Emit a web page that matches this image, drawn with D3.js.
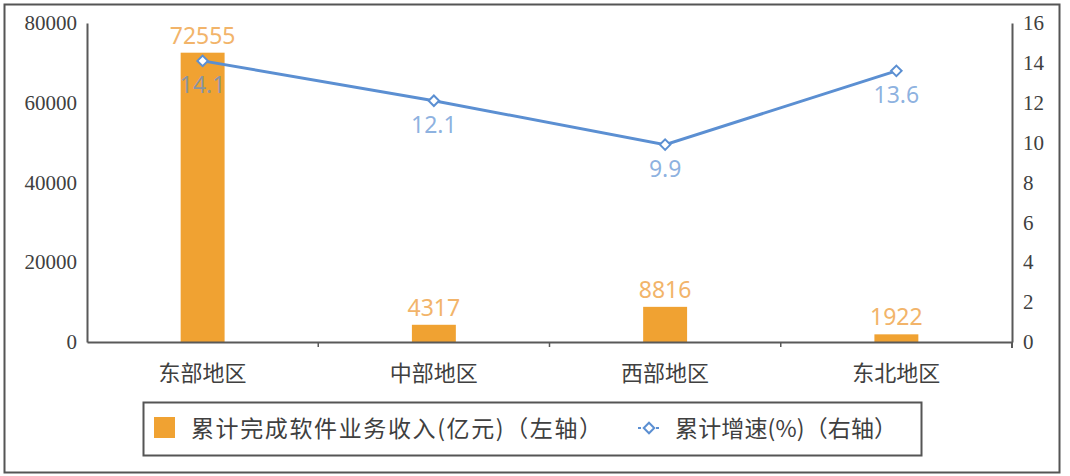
<!DOCTYPE html>
<html>
<head>
<meta charset="utf-8">
<script src="https://cdn.jsdelivr.net/npm/d3@7"></script>
<style>
  body { margin: 0; background: #fff; }
  svg { display: block; }
</style>
</head>
<body>
<div id="vis"></div>
<script>
const FRAME_WIDTH = 1070;
const FRAME_HEIGHT = 476;
const MARGINS = { left: 87, right: 58, top: 23, bottom: 134 };

const VIS_WIDTH = FRAME_WIDTH - MARGINS.left - MARGINS.right;
const VIS_HEIGHT = FRAME_HEIGHT - MARGINS.top - MARGINS.bottom;

// data
const regions = ["东部地区", "中部地区", "西部地区", "东北地区"];
const revenue = [72555, 4317, 8816, 1922];
const growth = [14.1, 12.1, 9.9, 13.6];
const leftTicks = [0, 20000, 40000, 60000, 80000];
const rightTicks = [0, 2, 4, 6, 8, 10, 12, 14, 16];
const legendLabels = ["累计完成软件业务收入(亿元)（左轴）", "累计增速(%)（右轴）"];

const BAR_COLOR = "#f0a232";
const LINE_COLOR = "#5b8fd2";
const AXIS_COLOR = "#595959";
const TEXT_COLOR = "#404040";

const FRAME = d3.select("#vis")
  .append("svg")
  .attr("width", FRAME_WIDTH)
  .attr("height", FRAME_HEIGHT);

// outer border
FRAME.append("rect")
  .attr("x", 4.5).attr("y", 4.5)
  .attr("width", 1055).attr("height", 468)
  .attr("fill", "none")
  .attr("stroke", "#555")
  .attr("stroke-width", 2);

const X_SCALE = d3.scaleBand()
  .domain(regions)
  .range([0, VIS_WIDTH])
  .paddingInner(0.81)
  .paddingOuter(0.405);

const X_BANDS = d3.scaleBand().domain(regions).range([0, VIS_WIDTH]);

const Y_LEFT = d3.scaleLinear().domain([0, 80000]).range([VIS_HEIGHT, 0]);
const Y_RIGHT = d3.scaleLinear().domain([0, 16]).range([VIS_HEIGHT, 0]);

const G = FRAME.append("g")
  .attr("transform", `translate(${MARGINS.left}, ${MARGINS.top})`);

// bars
G.selectAll(".bar")
  .data(regions)
  .enter()
  .append("rect")
  .attr("x", (d) => X_SCALE(d))
  .attr("y", (d, i) => Y_LEFT(revenue[i]))
  .attr("width", X_SCALE.bandwidth())
  .attr("height", (d, i) => VIS_HEIGHT - Y_LEFT(revenue[i]))
  .attr("fill", BAR_COLOR);

// bar labels
G.selectAll(".barlabel")
  .data(regions)
  .enter()
  .append("text")
  .attr("x", (d) => X_BANDS(d) + X_BANDS.bandwidth() / 2)
  .attr("y", (d, i) => Y_LEFT(revenue[i]) - 9)
  .attr("text-anchor", "middle")
  .style("font-family", "'Noto Sans', sans-serif")
  .style("font-size", "23px")
  .attr("fill", "#f2b46a")
  .text((d, i) => revenue[i]);

// axes
const X_AXIS = d3.axisBottom(X_BANDS).tickSize(0).tickFormat("");
const xg = G.append("g")
  .attr("transform", `translate(0, ${VIS_HEIGHT})`)
  .call(X_AXIS);
xg.select(".domain").attr("stroke", AXIS_COLOR).attr("stroke-width", 2);

// band boundary ticks
G.selectAll(".btick")
  .data(regions.slice(1))
  .enter()
  .append("line")
  .attr("x1", (d) => X_BANDS(d))
  .attr("x2", (d) => X_BANDS(d))
  .attr("y1", VIS_HEIGHT)
  .attr("y2", VIS_HEIGHT + 5)
  .attr("stroke", AXIS_COLOR)
  .attr("stroke-width", 1.5);

// category labels
G.selectAll(".cat")
  .data(regions)
  .enter()
  .append("text")
  .attr("x", (d) => X_BANDS(d) + X_BANDS.bandwidth() / 2)
  .attr("y", VIS_HEIGHT + 39)
  .attr("text-anchor", "middle")
  .style("font-family", "'Noto Sans CJK SC', sans-serif")
  .style("font-size", "22px")
  .attr("fill", TEXT_COLOR)
  .text((d) => d);

const Y_AXIS_L = d3.axisLeft(Y_LEFT).tickValues(leftTicks).tickSize(0).tickPadding(10)
  .tickFormat(d3.format("d"));
const yl = G.append("g").call(Y_AXIS_L);
yl.select(".domain").attr("stroke", AXIS_COLOR).attr("stroke-width", 2);
yl.selectAll("text")
  .style("font-family", "'Liberation Serif', serif")
  .style("font-size", "21px")
  .attr("fill", TEXT_COLOR);

const Y_AXIS_R = d3.axisRight(Y_RIGHT).tickValues(rightTicks).tickSize(0).tickPadding(11);
const yr = G.append("g")
  .attr("transform", `translate(${VIS_WIDTH}, 0)`)
  .call(Y_AXIS_R);
yr.select(".domain").attr("stroke", AXIS_COLOR).attr("stroke-width", 2);
yr.selectAll("text")
  .style("font-family", "'Liberation Serif', serif")
  .style("font-size", "21px")
  .attr("fill", TEXT_COLOR);
yr.append("line")
  .attr("x1", 0).attr("x2", 0)
  .attr("y1", VIS_HEIGHT).attr("y2", VIS_HEIGHT + 6)
  .attr("stroke", AXIS_COLOR).attr("stroke-width", 2);

// growth line
const LINE = d3.line()
  .x((d, i) => X_BANDS(regions[i]) + X_BANDS.bandwidth() / 2)
  .y((d) => Y_RIGHT(d));

G.append("path")
  .datum(growth)
  .attr("d", LINE)
  .attr("fill", "none")
  .attr("stroke", LINE_COLOR)
  .attr("stroke-width", 3);

const DIAMOND = d3.symbol().type(d3.symbolDiamond2).size(70);

G.selectAll(".pt")
  .data(growth)
  .enter()
  .append("path")
  .attr("d", DIAMOND)
  .attr("transform", (d, i) => `translate(${X_BANDS(regions[i]) + X_BANDS.bandwidth() / 2}, ${Y_RIGHT(d)})`)
  .attr("fill", "#fff")
  .attr("stroke", LINE_COLOR)
  .attr("stroke-width", 2);

G.selectAll(".ptlabel")
  .data(growth)
  .enter()
  .append("text")
  .attr("x", (d, i) => X_BANDS(regions[i]) + X_BANDS.bandwidth() / 2)
  .attr("y", (d) => Y_RIGHT(d) + 32)
  .attr("text-anchor", "middle")
  .style("font-family", "'Noto Sans', sans-serif")
  .style("font-size", "23px")
  .attr("fill", LINE_COLOR)
  .attr("fill-opacity", 0.7)
  .text((d) => d.toFixed(1));

// legend
const LEG = FRAME.append("g");
LEG.append("rect")
  .attr("x", 143.5).attr("y", 402.5)
  .attr("width", 778).attr("height", 53)
  .attr("fill", "#fff")
  .attr("stroke", "#555")
  .attr("stroke-width", 2);

LEG.append("rect")
  .attr("x", 154).attr("y", 417)
  .attr("width", 21).attr("height", 21)
  .attr("fill", BAR_COLOR);

LEG.append("text")
  .attr("x", 191).attr("y", 437)
  .attr("textLength", 411)
  .attr("lengthAdjust", "spacing")
  .style("font-family", "'Noto Sans CJK SC', sans-serif")
  .style("font-size", "23px")
  .attr("fill", TEXT_COLOR)
  .text(legendLabels[0]);

LEG.append("line")
  .attr("x1", 638).attr("x2", 660)
  .attr("y1", 428).attr("y2", 428)
  .attr("stroke", LINE_COLOR)
  .attr("stroke-width", 2)
  .attr("stroke-dasharray", "3,3");

LEG.append("path")
  .attr("d", DIAMOND)
  .attr("transform", "translate(649, 428)")
  .attr("fill", "#fff")
  .attr("stroke", LINE_COLOR)
  .attr("stroke-width", 2);

LEG.append("text")
  .attr("x", 675).attr("y", 437)
  .attr("textLength", 222)
  .attr("lengthAdjust", "spacing")
  .style("font-family", "'Noto Sans CJK SC', sans-serif")
  .style("font-size", "23px")
  .attr("fill", TEXT_COLOR)
  .text(legendLabels[1]);
</script>
</body>
</html>
